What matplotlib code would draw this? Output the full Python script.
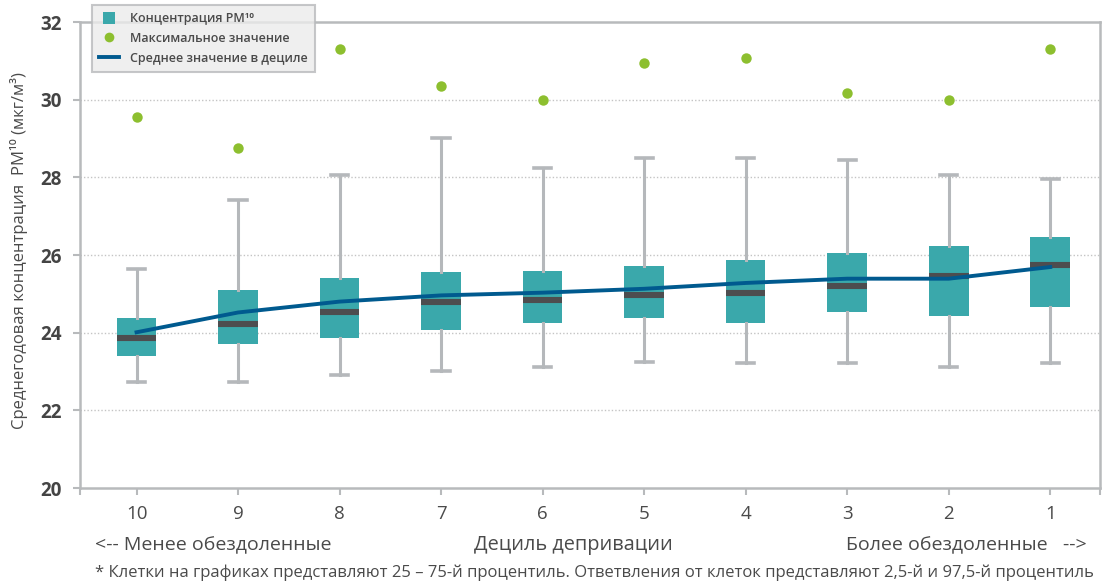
import matplotlib.pyplot as plt
from matplotlib.lines import Line2D

plt.rcParams['font.family'] = ['Open Sans', 'DejaVu Sans']

# Децили депривации (слева направо) и статистика PM10 по каждому
deciles = ['10', '9', '8', '7', '6', '5', '4', '3', '2', '1']
p2_5 = [22.74, 22.74, 22.91, 23.01, 23.11, 23.25, 23.22, 23.22, 23.11, 23.22]
q25 = [23.41, 23.72, 23.85, 24.08, 24.26, 24.39, 24.26, 24.54, 24.44, 24.67]
medians = [23.87, 24.23, 24.54, 24.78, 24.83, 24.96, 25.01, 25.19, 25.45, 25.73]
q75 = [24.38, 25.10, 25.41, 25.57, 25.59, 25.72, 25.88, 26.06, 26.24, 26.47]
p97_5 = [25.64, 27.42, 28.07, 29.02, 28.25, 28.49, 28.49, 28.44, 28.07, 27.96]
maximums = [29.56, 28.76, 31.31, 30.35, 29.99, 30.95, 31.08, 30.16, 29.98, 31.31]
means = [24.01, 24.52, 24.80, 24.96, 25.03, 25.13, 25.28, 25.39, 25.39, 25.69]

TEAL = '#3aa8ab'
GREEN = '#8dbf2f'
BLUE = '#005a8f'
WHISKER = '#b5b8bb'
MEDIAN = '#4d4d4f'
TEXT = '#4a4a4a'
FRAME = '#b8babc'

W, H = 1108, 587
fig = plt.figure(figsize=(W / 100, H / 100), dpi=100)
ax = fig.add_axes([80 / W, 1 - 488 / H, 1020 / W, 466 / H])

pos = list(range(len(deciles)))
stats = [
    dict(whislo=lo, q1=a, med=m, q3=b, whishi=hi, fliers=[])
    for lo, a, m, b, hi in zip(p2_5, q25, medians, q75, p97_5)
]
ax.bxp(stats, positions=pos, widths=0.39, capwidths=0.17, patch_artist=True,
       showfliers=False,
       boxprops=dict(facecolor=TEAL, edgecolor='none', linewidth=0),
       whiskerprops=dict(color=WHISKER, linewidth=2.2),
       capprops=dict(color=WHISKER, linewidth=2.6),
       medianprops=dict(color=MEDIAN, linewidth=4.4, solid_capstyle='butt'),
       zorder=2)

ax.plot(pos, means, color=BLUE, linewidth=2.8, zorder=4)
ax.plot(pos, maximums, linestyle='none', marker='o', markersize=7.5,
        color=GREEN, markeredgewidth=0, zorder=3)

ax.set_xlim(-0.557, 9.49)
ax.set_ylim(20, 32)
ax.set_yticks(range(20, 33, 2))
ax.set_xticks(pos)
ax.set_xticklabels(deciles)
ax.set_xticks([-0.557, 9.49], minor=True)

for label in ax.get_yticklabels():
    label.set_fontweight('bold')
ax.tick_params(axis='y', labelsize=13.5, colors=FRAME, labelcolor='#444444',
               length=5, width=1.5, pad=8)
ax.tick_params(axis='x', labelsize=13.5, colors=FRAME, labelcolor=TEXT,
               length=5, width=1.5, pad=7)
ax.tick_params(axis='x', which='minor', colors=FRAME, length=5, width=1.5)

for side in ['left', 'right', 'top', 'bottom']:
    ax.spines[side].set_color(FRAME)
    ax.spines[side].set_linewidth(1.8)

for y in range(22, 32, 2):
    ax.axhline(y, color='#c4c4c4', linewidth=1, linestyle=(0, (1, 1.5)),
               zorder=1)

ax.set_ylabel('Среднегодовая концентрация  PM¹⁰ (мкг/м³)', fontsize=12,
              color=TEXT)
ax.yaxis.set_label_coords(-52 / 1020, 0.51)

# Подписи под осью
fig.text(95 / W, 1 - 545 / H, '<-- Менее обездоленные', fontsize=14,
         color=TEXT, va='center', ha='left')
fig.text(573 / W, 1 - 545 / H, 'Дециль депривации', fontsize=14.3,
         color=TEXT, va='center', ha='center')
fig.text(1087 / W, 1 - 545 / H, 'Более обездоленные   -->', fontsize=14,
         color=TEXT, va='center', ha='right')
fig.text(95 / W, 1 - 573 / H,
         '* Клетки на графиках представляют 25 – 75-й процентиль. '
         'Ответвления от клеток представляют 2,5-й и 97,5-й процентиль',
         fontsize=12, color=TEXT, va='center', ha='left')

handles = [
    Line2D([], [], linestyle='none', marker='s', markersize=8,
           markerfacecolor=TEAL, markeredgewidth=0),
    Line2D([], [], linestyle='none', marker='o', markersize=7,
           markerfacecolor=GREEN, markeredgewidth=0),
    Line2D([], [], color=BLUE, linewidth=2.8),
]
leg = fig.legend(handles,
                 ['Концентрация PM¹⁰', 'Максимальное значение',
                  'Среднее значение в дециле'],
                 loc='upper left', bbox_to_anchor=(92 / W, 1 - 5 / H),
                 borderaxespad=0, frameon=True, fancybox=False,
                 handlelength=1.6, handletextpad=0.9, labelspacing=0.55,
                 borderpad=0.55, labelcolor=TEXT,
                 prop=dict(weight='semibold', size=9))
leg.get_frame().set_facecolor('#ebebeb')
leg.get_frame().set_edgecolor(FRAME)
leg.get_frame().set_linewidth(1.5)
leg.set_zorder(10)

fig.savefig('out.png', dpi=100)
